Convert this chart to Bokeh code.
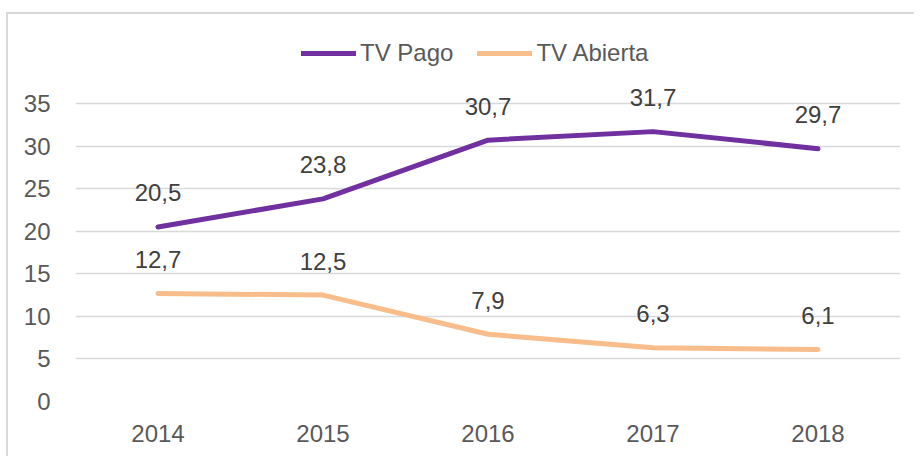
from bokeh.plotting import figure
from bokeh.models import ColumnDataSource, FactorRange, Range1d, FixedTicker, Legend, LegendItem
from bokeh.core.properties import value
from bokeh.embed import file_html
from bokeh.resources import INLINE

years = ["2014", "2015", "2016", "2017", "2018"]
tv_pago = [20.5, 23.8, 30.7, 31.7, 29.7]
tv_abierta = [12.7, 12.5, 7.9, 6.3, 6.1]
y_ticks = [0, 5, 10, 15, 20, 25, 30, 35]

FONT = "Liberation Sans"
FS = "24px"
PURPLE = "#7030A0"
ORANGE = "#F8BD8A"
GRAY_TXT = "#595959"
LBL_TXT = "#404040"

def fmt(v):
    return ("%.1f" % v).replace(".", ",")

src = ColumnDataSource(dict(
    x=years, pago=tv_pago, abierta=tv_abierta,
    pago_lbl=[fmt(v) for v in tv_pago],
    abierta_lbl=[fmt(v) for v in tv_abierta],
))

p = figure(x_range=FactorRange(*years), y_range=Range1d(0, 44.87),
           width=908, height=444, output_backend="svg", toolbar_location=None,
           min_border_left=67, min_border_right=16, min_border_top=5, min_border_bottom=57)
p.styles = {"border-left": "2px solid #d9d9d9", "border-top": "2px solid #d9d9d9",
            "margin-top": "12px", "margin-left": "6px"}
p.outline_line_color = None
p.background_fill_color = "white"
p.border_fill_color = "white"

p.xgrid.grid_line_color = None
p.ygrid.grid_line_color = "#d9d9d9"
p.ygrid.grid_line_width = 1.5
p.yaxis.ticker = FixedTicker(ticks=y_ticks)

for ax in (p.xaxis[0], p.yaxis[0]):
    ax.axis_line_color = None
    ax.major_tick_line_color = None
    ax.minor_tick_line_color = None
    ax.major_tick_out = 0
    ax.major_tick_in = 0
    ax.minor_tick_out = 0
    ax.major_label_text_font = FONT
    ax.major_label_text_font_size = FS
    ax.major_label_text_color = GRAY_TXT
p.xaxis.major_label_standoff = 23
p.yaxis.major_label_standoff = 25

r1 = p.line("x", "pago", source=src, line_color=PURPLE, line_width=5, line_cap="round", line_join="round")
r2 = p.line("x", "abierta", source=src, line_color=ORANGE, line_width=5, line_cap="round", line_join="round")

for col, lbl in (("pago", "pago_lbl"), ("abierta", "abierta_lbl")):
    p.text(x="x", y=col, text=lbl, source=src, text_font=value(FONT), text_font_size=FS,
           text_color=LBL_TXT, text_align="center", text_baseline="middle", y_offset=-34)

legend = Legend(items=[LegendItem(label="TV Pago", renderers=[r1]),
                       LegendItem(label="TV Abierta", renderers=[r2])],
                orientation="horizontal", location=(226, 334))
legend.border_line_color = None
legend.background_fill_alpha = 0
legend.padding = 0
legend.margin = 0
legend.spacing = 24
legend.glyph_width = 55
legend.glyph_height = 20
legend.label_standoff = 4
legend.label_text_font = FONT
legend.label_text_font_size = FS
legend.label_text_color = GRAY_TXT
p.add_layout(legend)

open("out.html", "w").write(file_html(p, INLINE))
